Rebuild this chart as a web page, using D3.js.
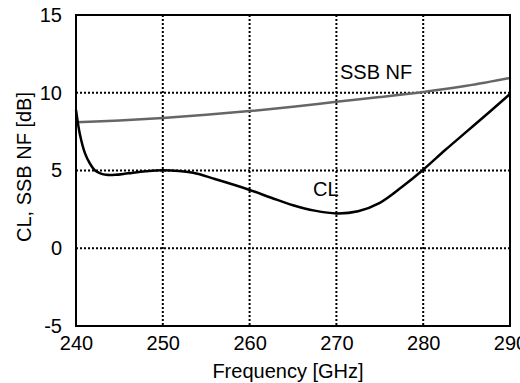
<!DOCTYPE html>
<html>
<head>
<meta charset="utf-8">
<script src="https://cdn.jsdelivr.net/npm/d3@7"></script>
<style>
  body { margin: 0; background: #fff; }
  text { font-family: "Liberation Sans", Arial, sans-serif; }
</style>
</head>
<body>
<script>
// Data
const clFreq = [240, 240.46, 241.04, 241.6, 242.2, 242.8, 243.5, 244.5, 246, 248, 250, 253.5, 256, 259.85,
                262.5, 265, 267.5, 270, 272.5, 275, 277.5, 280, 282.5, 285, 287.5, 290];
const clValues = [8.9, 7.3, 6.1, 5.45, 5.0, 4.82, 4.72, 4.72, 4.82, 4.95, 5.02, 4.85, 4.45, 3.78,
                  3.25, 2.77, 2.42, 2.24, 2.38, 2.92, 3.92, 5.05, 6.3, 7.5, 8.7, 9.92];
const nfFreq = [240, 245, 250, 255, 260, 265, 270, 275, 280, 285, 290];
const nfValues = [8.1, 8.22, 8.38, 8.58, 8.82, 9.1, 9.42, 9.72, 10.05, 10.45, 10.95];
const xTicks = [240, 250, 260, 270, 280, 290];
const yTicks = [-5, 0, 5, 10, 15];

// Set the dimensions and margins of the graph
const margin = {top: 15, right: 10, bottom: 57, left: 76},
      width = 520 - margin.left - margin.right,
      height = 383 - margin.top - margin.bottom;

const svg = d3.select("body")
  .append("svg")
    .attr("width", 520)
    .attr("height", 383)
  .append("g")
    .attr("transform", "translate(" + margin.left + "," + margin.top + ")");

const x = d3.scaleLinear().domain([240, 290]).range([0, width]);
const y = d3.scaleLinear().domain([-5, 15]).range([height, 0]);

// Dotted grid
svg.append("g")
  .selectAll("line")
  .data(xTicks.slice(1, -1))
  .enter().append("line")
    .attr("x1", d => x(d)).attr("x2", d => x(d))
    .attr("y1", 0).attr("y2", height)
    .attr("stroke", "#000").attr("stroke-width", 2).attr("stroke-dasharray", "2,2");
svg.append("g")
  .selectAll("line")
  .data(yTicks.slice(1, -1))
  .enter().append("line")
    .attr("x1", 0).attr("x2", width)
    .attr("y1", d => y(d)).attr("y2", d => y(d))
    .attr("stroke", "#000").attr("stroke-width", 2).attr("stroke-dasharray", "2,2");

// Axes (labels only, no tick marks); plain hyphen for -5
const xAxis = svg.append("g")
    .attr("transform", "translate(0," + height + ")")
    .call(d3.axisBottom(x).tickValues(xTicks).tickSize(0).tickPadding(10).tickFormat(d => String(d)));
const yAxis = svg.append("g")
    .call(d3.axisLeft(y).tickValues(yTicks).tickSize(0).tickPadding(14).tickFormat(d => String(d)));
[xAxis, yAxis].forEach(function(a) {
  a.select(".domain").remove();
  a.selectAll("text").style("font-size", "20px").style("font-family", "'Liberation Sans', Arial, sans-serif").attr("fill", "#000");
});

// Curves
const line = d3.line()
    .x(d => x(d[0]))
    .y(d => y(d[1]))
    .curve(d3.curveCatmullRom.alpha(0.5));

svg.append("path")
    .datum(d3.zip(nfFreq, nfValues))
    .attr("fill", "none")
    .attr("stroke", "#666")
    .attr("stroke-width", 2.5)
    .attr("d", line);

svg.append("path")
    .datum(d3.zip(clFreq, clValues))
    .attr("fill", "none")
    .attr("stroke", "#000")
    .attr("stroke-width", 2.5)
    .attr("d", line);

// Frame
svg.append("rect")
    .attr("x", 0).attr("y", 0)
    .attr("width", width).attr("height", height)
    .attr("fill", "none")
    .attr("stroke", "#000")
    .attr("stroke-width", 2);

// Curve labels
svg.append("text")
    .attr("x", 340 - margin.left).attr("y", 79 - margin.top)
    .style("font-size", "20px")
    .text("SSB NF");
svg.append("text")
    .attr("x", 313 - margin.left).attr("y", 196 - margin.top)
    .style("font-size", "20px")
    .text("CL");

// Axis titles
svg.append("text")
    .attr("x", 288 - margin.left).attr("y", 378 - margin.top)
    .style("text-anchor", "middle")
    .style("font-size", "20px")
    .text("Frequency [GHz]");
svg.append("text")
    .attr("transform", "translate(" + (31 - margin.left) + "," + (167 - margin.top) + ") rotate(-90)")
    .style("text-anchor", "middle")
    .style("font-size", "20px")
    .text("CL, SSB NF [dB]");
</script>
</body>
</html>
